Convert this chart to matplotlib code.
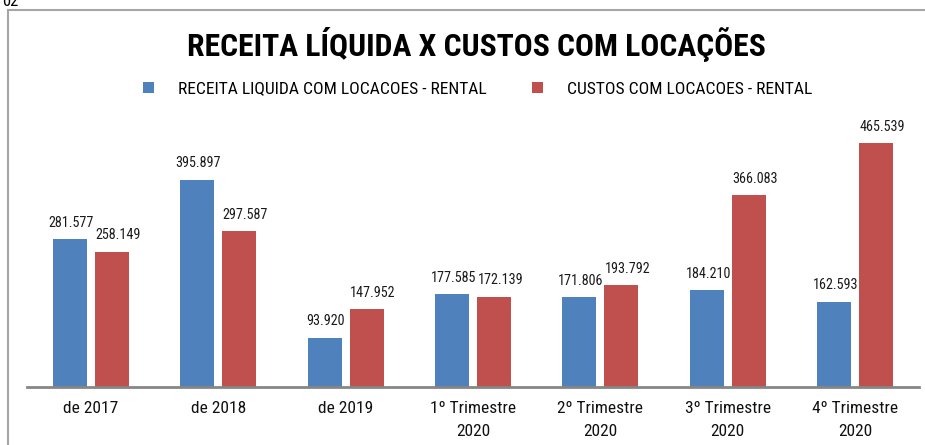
import numpy as np
import matplotlib.pyplot as plt
from matplotlib.lines import Line2D

plt.rcParams['font.family'] = ['Roboto Condensed', 'DejaVu Sans']

# data
periodos = ['de 2017', 'de 2018', 'de 2019', '1º Trimestre\n2020',
            '2º Trimestre\n2020', '3º Trimestre\n2020', '4º Trimestre\n2020']
receita = [281.577, 395.897, 93.920, 177.585, 171.806, 184.210, 162.593]
custos = [258.149, 297.587, 147.952, 172.139, 193.792, 366.083, 465.539]
rot_receita = ['281.577', '395.897', '93.920', '177.585', '171.806', '184.210', '162.593']
rot_custos = ['258.149', '297.587', '147.952', '172.139', '193.792', '366.083', '465.539']

azul = '#4F81BD'
vermelho = '#C0504D'

W, H = 925, 445
fig = plt.figure(figsize=(W/100, H/100), dpi=100)
ax = fig.add_axes([27/W, (H-387)/H, (919-27)/W, 262/H])

x = np.arange(len(periodos))
bw = 0.267
off = 0.165
b1 = ax.bar(x - off, receita, bw, color=azul, label='RECEITA LIQUIDA COM LOCACOES - RENTAL')
b2 = ax.bar(x + off, custos, bw, color=vermelho, label='CUSTOS COM LOCACOES - RENTAL')

# rotulos levemente deslocados p/ direita, como no original
for xi, v, t in zip(x, receita, rot_receita):
    ax.text(xi - off + 0.01, v + 18, t, ha='center', va='bottom', fontsize=10.2, color='#1a1a1a')
for xi, v, t in zip(x, custos, rot_custos):
    ax.text(xi + off + 0.05, v + 18, t, ha='center', va='bottom', fontsize=10.2, color='#1a1a1a')

ax.set_xlim(-0.5, 6.5)
ax.set_ylim(0, 500)
ax.set_xticks(x)
ax.set_xticklabels(periodos, fontsize=12.5, linespacing=1.7, color='#111111')
ax.tick_params(axis='x', length=0, pad=10)
ax.set_yticks([])
for s in ['top', 'right', 'left']:
    ax.spines[s].set_visible(False)
ax.spines['bottom'].set_color('#868686')
ax.spines['bottom'].set_linewidth(2)

fig.text(476/W, 1 - 44/H, 'RECEITA LÍQUIDA X CUSTOS COM LOCAÇÕES', ha='center', va='center',
         fontsize=22.8, fontweight='bold')

fig.legend(handles=[b1, b2], loc='center', bbox_to_anchor=(478/W, 1 - 89/H), ncol=2,
           frameon=False, fontsize=12.6, handlelength=0.6, handleheight=0.6,
           handletextpad=1.4, columnspacing=2.6)

# moldura
fig.add_artist(Line2D([8/W, 8/W], [0, 1 - 10/H], color='#A6A6A6', lw=1.5, transform=fig.transFigure))
fig.add_artist(Line2D([8/W, 1], [1 - 10/H, 1 - 10/H], color='#A6A6A6', lw=1.5, transform=fig.transFigure))
fig.text(2/W, 1 - 1/H, '02', ha='left', va='center', fontsize=12)

plt.savefig('out.png', dpi=100)
